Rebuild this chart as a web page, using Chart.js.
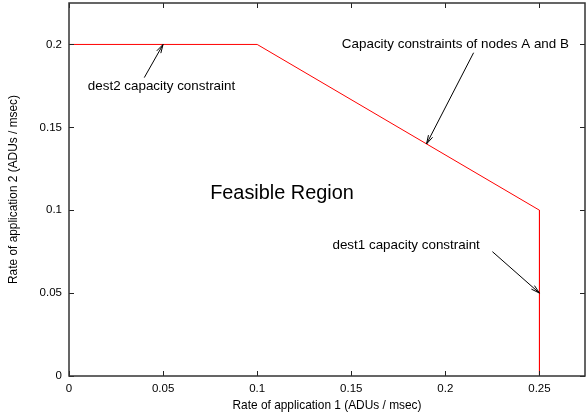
<!DOCTYPE html>
<html>
<head>
<meta charset="utf-8">
<script src="https://cdn.jsdelivr.net/npm/chart.js@4.4.0/dist/chart.umd.min.js"></script>
<style>
  html, body { margin: 0; padding: 0; background: #fff; }
  #wrap { width: 587px; height: 417px; }
</style>
</head>
<body>
<div id="wrap"><canvas id="chart" width="587" height="417"></canvas></div>
<script>
// boundary of the feasible region
const rate1 = [0, 0.1, 0.25, 0.25];
const rate2 = [0.2, 0.2, 0.1, 0];

const xTicks = [0, 0.05, 0.1, 0.15, 0.2, 0.25];
const yTicks = [0, 0.05, 0.1, 0.15, 0.2];

// labels: text, x, y (data coords, left aligned)
const labelText = ["dest2 capacity constraint", "Capacity constraints of nodes A and B", "Feasible Region", "dest1 capacity constraint"];
const labelX = [0.01, 0.145, 0.075, 0.14];
const labelY = [0.175, 0.2, 0.11, 0.079];
const labelSize = [13.4, 13.4, 19.9, 13.4];

// arrows: from (x0,y0) to (x1,y1)
const arrowX0 = [0.04, 0.215, 0.225];
const arrowY0 = [0.18, 0.195, 0.075];
const arrowX1 = [0.05, 0.19, 0.25];
const arrowY1 = [0.2, 0.14, 0.05];

const FONT = "'Liberation Sans', Arial, Helvetica, sans-serif";

const fmt = (v) => String(+v.toFixed(3));

const frame = {
  id: 'frame',
  afterDraw(chart) {
    const { ctx, chartArea: a, scales } = chart;
    const xs = scales.x, ys = scales.y;
    ctx.save();
    // mirrored inward ticks
    ctx.strokeStyle = '#222';
    ctx.lineWidth = 1;
    ctx.beginPath();
    xTicks.forEach(v => {
      const px = Math.floor(xs.getPixelForValue(v)) + 0.5;
      ctx.moveTo(px, a.bottom); ctx.lineTo(px, a.bottom - 5);
      ctx.moveTo(px, a.top); ctx.lineTo(px, a.top + 5);
    });
    yTicks.forEach(v => {
      const py = Math.round(ys.getPixelForValue(v)) + 0.5;
      ctx.moveTo(a.left, py); ctx.lineTo(a.left + 5, py);
      ctx.moveTo(a.right, py); ctx.lineTo(a.right - 5, py);
    });
    ctx.stroke();
    // border
    ctx.strokeStyle = '#333';
    ctx.lineWidth = 1.5;
    ctx.strokeRect(a.left, a.top, a.right - a.left, a.bottom - a.top);

    // arrows
    ctx.strokeStyle = '#000';
    ctx.lineWidth = 1;
    for (let i = 0; i < arrowX0.length; i++) {
      const x0 = xs.getPixelForValue(arrowX0[i]), y0 = ys.getPixelForValue(arrowY0[i]);
      const x1 = xs.getPixelForValue(arrowX1[i]), y1 = ys.getPixelForValue(arrowY1[i]);
      const ang = Math.atan2(y1 - y0, x1 - x0);
      const len = 9, spread = Math.PI / 12;
      ctx.beginPath();
      ctx.moveTo(x0, y0); ctx.lineTo(x1, y1);
      ctx.moveTo(x1 - len * Math.cos(ang - spread), y1 - len * Math.sin(ang - spread));
      ctx.lineTo(x1, y1);
      ctx.lineTo(x1 - len * Math.cos(ang + spread), y1 - len * Math.sin(ang + spread));
      ctx.stroke();
    }

    // text labels
    ctx.fillStyle = '#000';
    ctx.textAlign = 'left';
    ctx.textBaseline = 'middle';
    labelText.forEach((t, i) => {
      ctx.font = labelSize[i] + 'px ' + FONT;
      ctx.fillText(t, xs.getPixelForValue(labelX[i]), ys.getPixelForValue(labelY[i]));
    });
    ctx.restore();
  }
};

new Chart(document.getElementById('chart'), {
  type: 'scatter',
  data: {
    datasets: [{
      data: rate1.map((x, i) => ({ x: x, y: rate2[i] })),
      showLine: true,
      borderColor: '#ff0000',
      borderWidth: 1,
      pointRadius: 0,
      tension: 0,
      fill: false
    }]
  },
  options: {
    responsive: false,
    animation: false,
    layout: { padding: { top: 3, right: 2, left: 0, bottom: 0 } },
    plugins: { legend: { display: false }, tooltip: { enabled: false } },
    scales: {
      x: {
        type: 'linear',
        min: 0,
        max: 0.2742,
        afterBuildTicks: (s) => { s.ticks = xTicks.map(v => ({ value: v })); },
        afterFit: (s) => { s.height = 41; s.paddingLeft = 0; s.paddingRight = 0; },
        grid: { display: false, drawTicks: false },
        border: { display: false },
        ticks: {
          callback: (v) => fmt(v),
          color: '#000',
          font: { family: FONT, size: 11.5 },
          padding: 6,
          maxRotation: 0
        },
        title: {
          display: true,
          text: 'Rate of application 1 (ADUs / msec)',
          color: '#000',
          font: { family: FONT, size: 11.9 },
          padding: { top: 0, bottom: 4 }
        }
      },
      y: {
        type: 'linear',
        min: 0,
        max: 0.225,
        afterBuildTicks: (s) => { s.ticks = yTicks.map(v => ({ value: v })); },
        afterFit: (s) => { s.width = 69; s.paddingTop = 0; s.paddingBottom = 0; },
        grid: { display: false, drawTicks: false },
        border: { display: false },
        ticks: {
          callback: (v) => fmt(v),
          color: '#000',
          font: { family: FONT, size: 11.5 },
          padding: 7
        },
        title: {
          display: true,
          text: 'Rate of application 2 (ADUs / msec)',
          color: '#000',
          font: { family: FONT, size: 11.9 },
          padding: { top: 7, bottom: 0 }
        }
      }
    }
  },
  plugins: [frame]
});
</script>
</body>
</html>
